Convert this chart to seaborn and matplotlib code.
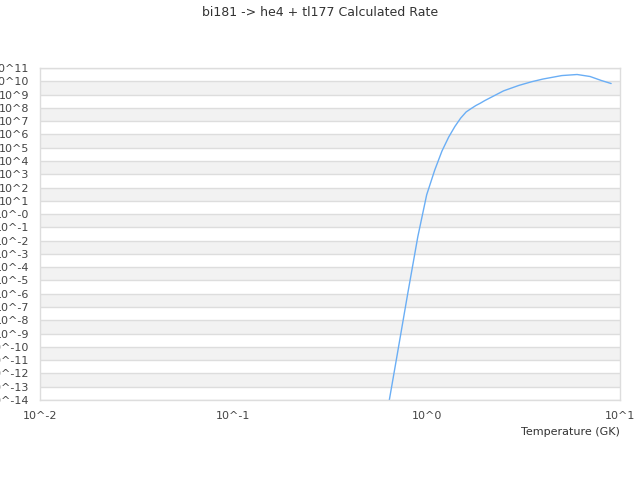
import matplotlib
matplotlib.use("Agg")
import matplotlib.pyplot as plt
import seaborn as sns
import numpy as np
import pandas as pd

title = "bi181 -> he4 + tl177 Calculated Rate"
x_label = "Temperature (GK)"

temperature = [0.6, 0.7, 0.8, 0.9, 1.0, 1.1, 1.2, 1.3, 1.4, 1.5, 1.6, 1.7, 1.8, 1.9,
               2.0, 2.5, 3.0, 3.5, 4.0, 5.0, 6.0, 7.0, 8.0, 9.0]
log_rate = [-16.4, -10.8, -5.9, -1.7, 1.45, 3.3, 4.75, 5.8, 6.6, 7.23, 7.69, 7.95,
            8.18, 8.36, 8.55, 9.28, 9.69, 9.97, 10.17, 10.43, 10.51, 10.36, 10.06, 9.83]

y_exponents = list(range(-14, 12))
y_tick_labels = ["10^-14", "10^-13", "10^-12", "10^-11", "10^-10", "10^-9", "10^-8",
                 "10^-7", "10^-6", "10^-5", "10^-4", "10^-3", "10^-2", "10^-1",
                 "10^-0", "10^1", "10^2", "10^3", "10^4", "10^5", "10^6", "10^7",
                 "10^8", "10^9", "10^10", "10^11"]
x_exponents = [-2, -1, 0, 1]
x_tick_labels = ["10^-2", "10^-1", "10^0", "10^1"]

df = pd.DataFrame({"T": temperature, "rate": [10.0 ** v for v in log_rate]})

sns.set_style("white")
plt.rcParams["font.family"] = ["DejaVu Sans"]

fig = plt.figure(figsize=(6.4, 4.8), dpi=100)
ax = fig.add_axes([40 / 640, 1 - 400 / 480, 580 / 640, 332 / 480])

sns.lineplot(data=df, x="T", y="rate", ax=ax, color="#6aaef5", linewidth=1.0)
ax.set_xscale("log")
ax.set_yscale("log")
ax.set_xlim(10.0 ** x_exponents[0], 10.0 ** x_exponents[-1])
ax.set_ylim(10.0 ** y_exponents[0], 10.0 ** y_exponents[-1])

yt = [10.0 ** e for e in y_exponents]
for i in range(len(yt) - 1):
    idx_from_top = len(yt) - 2 - i
    if idx_from_top % 2 == 1:
        ax.axhspan(yt[i], yt[i + 1], color="#f2f2f2", zorder=0, lw=0)
for v in yt:
    ax.axhline(v, color="#dddddd", lw=1.0, zorder=0.5)

ax.set_yticks(yt)
ax.set_yticklabels(y_tick_labels)
ax.set_xticks([10.0 ** e for e in x_exponents])
ax.set_xticklabels(x_tick_labels)
ax.minorticks_off()
ax.tick_params(axis="both", length=0, labelsize=8, colors="#444444")
ax.tick_params(axis="y", pad=8)
ax.tick_params(axis="x", pad=8)

for s in ax.spines.values():
    s.set_color("#dddddd")
    s.set_linewidth(1.0)

ax.set_xlabel(x_label, fontsize=8, color="#333333")
ax.xaxis.set_label_coords(1.0, -0.082)
ax.xaxis.label.set_horizontalalignment("right")
ax.set_ylabel("")

fig.suptitle(title, fontsize=9, color="#333333", y=0.988)

fig.savefig("out.png", dpi=100)
